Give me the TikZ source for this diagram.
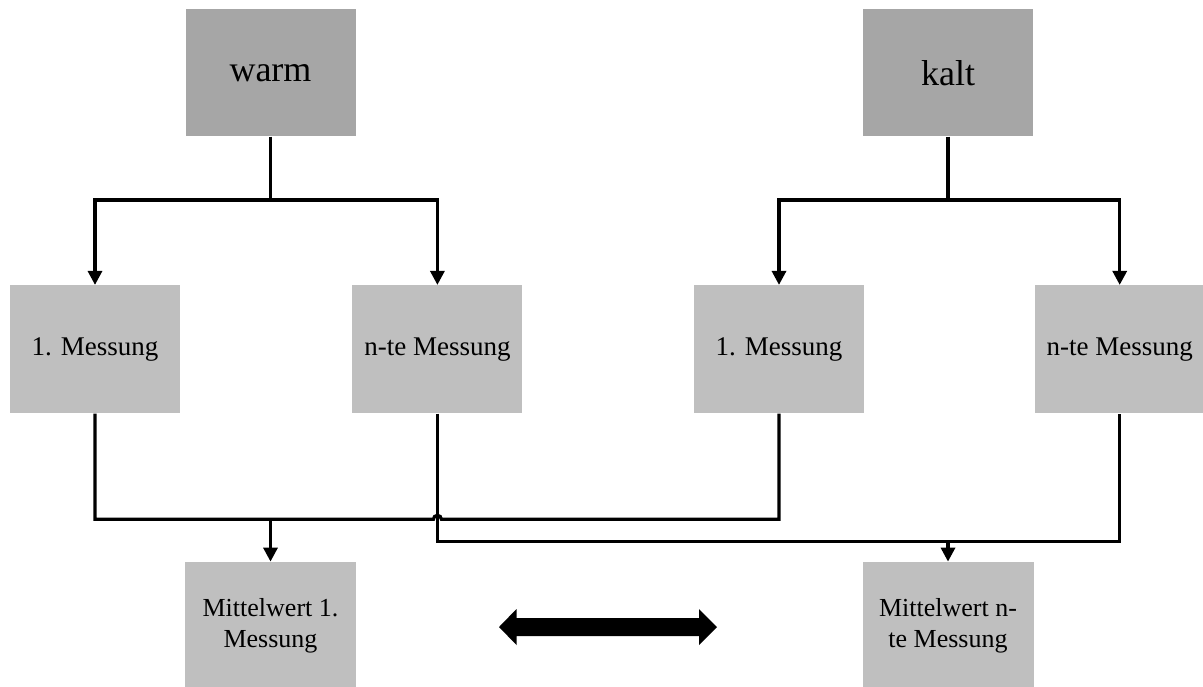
\documentclass[tikz,border=0pt]{standalone}
\usepackage{fontspec}
\setmainfont{Liberation Serif}
\usepackage{tikz}
\usetikzlibrary{arrows.meta}
\definecolor{topgray}{HTML}{A6A6A6}
\definecolor{boxgray}{HTML}{BFBFBF}

\begin{document}
\begin{tikzpicture}[x=0.5pt, y=-0.5pt,
  topbox/.style={fill=topgray, minimum width=85pt, minimum height=63.5pt, inner sep=0pt, font=\fontsize{18}{21.6}\selectfont},
  messbox/.style={fill=boxgray, minimum width=85pt, minimum height=64pt, inner sep=0pt, font=\fontsize{13.5}{16}\selectfont},
  meanbox/.style={fill=boxgray, minimum width=85.5pt, minimum height=64pt, inner sep=0pt, align=center, font=\fontsize{13}{15.5}\selectfont},
  line/.style={line width=1.6pt},
  arr/.style={line width=1.6pt, -{Triangle[length=7pt, width=7pt]}}]
\useasboundingbox (0,0) rectangle (1203,686);

% Top boxes
\node[topbox] (warm) at (270.5, 72.7) {warm};
\node[topbox] (kalt) at (948, 72.7) {kalt};

% Measurements
\node[messbox] (m1w) at (95, 349.3) {1. Messung};
\node[messbox] (mnw) at (437.4, 349.3) {n-te Messung};
\node[messbox] (m1k) at (779, 349.3) {1. Messung};
\node[messbox] (mnk) at (1119.7, 349.3) {n-te Messung};

% Mean values
\node[meanbox] (mw1) at (270.5, 626) {Mittelwert 1.\\Messung};
\node[meanbox] (mwn) at (948, 626) {Mittelwert n-\\te Messung};

% Split points
\coordinate (wsplit) at (270.5, 200);
\coordinate (ksplit) at (948, 200);
\coordinate (j1) at (270.5, 519.3);
\coordinate (j2) at (948, 541.7);
\coordinate (hopl) at (433.4, 519.3);

% Top connectors
\draw[line] (warm) -- (wsplit);
\draw[arr] (wsplit) -| (m1w);
\draw[arr] (wsplit) -| (mnw);
\draw[line] (kalt) -- (ksplit);
\draw[arr] (ksplit) -| (m1k);
\draw[arr] (ksplit) -| (mnk);

% Bottom connectors
\draw[line] (m1w.south) |- (hopl) arc (180:360:4) -| (m1k.south);
\draw[arr] (j1) -- (mw1);
\draw[line] (mnw.south) |- (j2) -| (mnk.south);
\draw[arr] (j2) -- (mwn);

% Double arrow
\fill (499, 627) -- (516.5, 609) -- (516.5, 618) -- (699, 618) -- (699, 609)
  -- (717, 627) -- (699, 645) -- (699, 636) -- (516.5, 636) -- (516.5, 645) -- cycle;
\end{tikzpicture}
\end{document}
